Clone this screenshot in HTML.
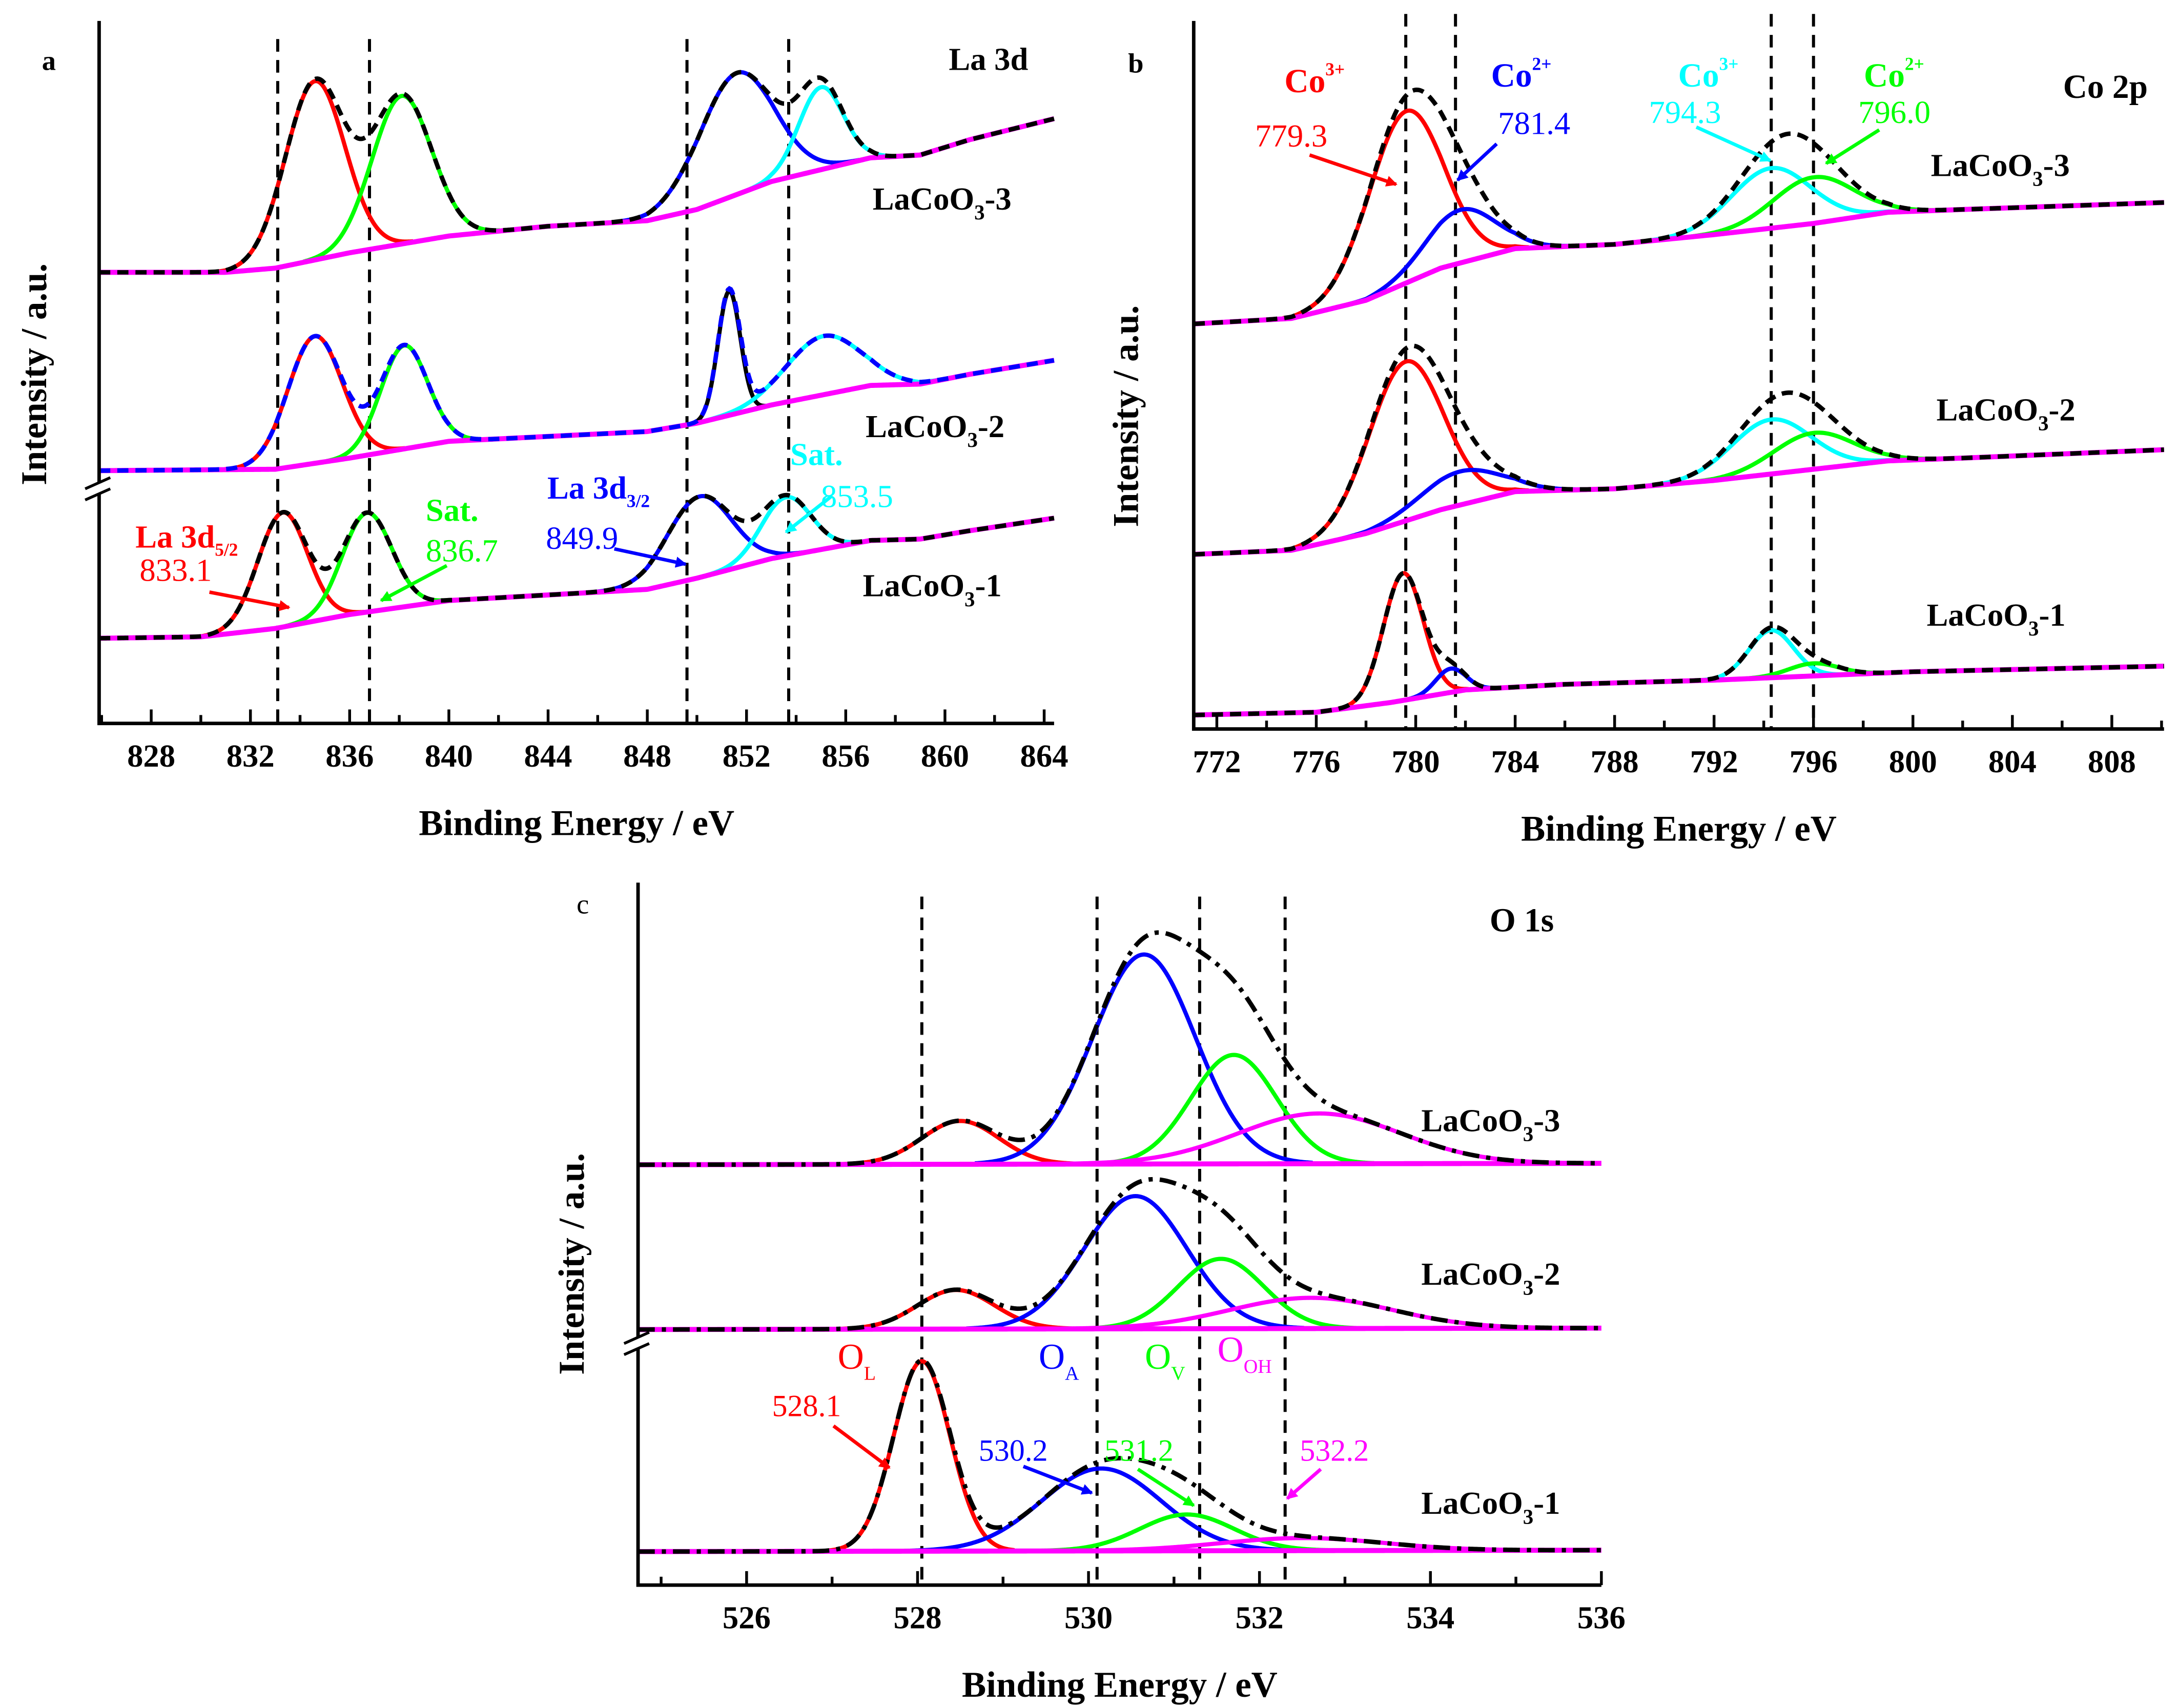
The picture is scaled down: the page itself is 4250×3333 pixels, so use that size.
<!DOCTYPE html>
<html><head><meta charset="utf-8"><title>XPS spectra</title>
<style>
html,body{margin:0;padding:0;background:#fff;}
svg{display:block;}
text{font-family:"Liberation Serif",serif;}
</style></head>
<body>
<svg id="fig" xmlns="http://www.w3.org/2000/svg" width="4250" height="3333" viewBox="0 0 1560 1223" preserveAspectRatio="none">
<rect x="0" y="0" width="1560" height="1223" fill="#fff"/>
<g id="layer"></g>
</svg>
<script>
// ---------- Panel a : La 3d ----------
const aTicks = [828,832,836,840,844,848,852,856,860,864];
const aDashLines = [833.1,836.8,849.6,853.7];
const aBaseE3 = [826,831,833,836,840,844,848,850,853,857,859,861,864.4];
const aBaseI3 = [323,323,326,337,349,356,360,368,388,405,407,418,433];
const aBaseE2 = [826,833,836,840,848,850,853,857,859,861,864.4];
const aBaseI2 = [181,182,190,202,209,215,228,242,243,250,260];
const aBaseE1 = [826,830,833,836,840,848,850,853,857,859,861,864.4];
const aBaseI1 = [61,62,68,78,88,96,104,118,131,132,138,147];
const aCent3 = [834.6,838.1,851.6,855.0];
const aHeight3 = [128,106,87,59];
const aSigma3 = [1.2,1.2,1.5,0.9];
const aCent2 = [834.6,838.2,851.3,855.1];
const aHeight2 = [91,74,89,42];
const aSigma2 = [1.1,0.95,0.45,1.5];
const aCent1 = [833.3,836.7,850.1,853.6];
const aHeight1 = [82,71,58,42];
const aSigma1 = [1.0,1.0,1.3,1.0];

// ---------- Panel b : Co 2p ----------
const bTicks = [772,776,780,784,788,792,796,800,804,808];
const bDashLines = [779.6,781.6,794.3,796.0];
const bBaseE3 = [771,775,778,781,784,788,792,796,799,802,810.1];
const bBaseI3 = [290,294,307,330,344,347,354,362,370,372,377];
const bBaseE2 = [771,775,778,781,784,788,792,796,799,802,810.1];
const bBaseI2 = [125,128,140,157,170,172,178,186,192,194,200];
const bBaseE1 = [771,776,779,782,786,792,796,800,810.1];
const bBaseI1 = [10,12,19,28,32,35,38,41,45];
const bCent3 = [779.6,781.8,794.3,796.0];
const bHeight3 = [123,38,43,33];
const bSigma3 = [1.5,1.4,1.6,1.6];
const bCent2 = [779.6,781.8,794.3,796.0];
const bHeight2 = [114,24,39,26];
const bSigma2 = [1.5,1.6,1.6,1.6];
const bCent1 = [779.5,781.4,794.3,796.0];
const bHeight1 = [91,17,34,9];
const bSigma1 = [0.8,0.6,0.9,1.0];

// ---------- Panel c : O 1s ----------
const cTicks = [526,528,530,532,534,536];
const cDashLines = [528.05,530.1,531.3,532.3];
const cBaseE3 = [524.7,536];
const cBaseI3 = [301,302];
const cBaseE2 = [524.7,536];
const cBaseI2 = [183,184];
const cBaseE1 = [524.7,536];
const cBaseI1 = [24,25];
const cCent3 = [528.5,530.65,531.7,532.7];
const cHeight3 = [31,150,78,36];
const cSigma3 = [0.45,0.6,0.5,0.95];
const cCent2 = [528.45,530.55,531.55,532.6];
const cHeight2 = [28,95,50,22];
const cSigma2 = [0.45,0.6,0.5,0.95];
const cCent1 = [528.05,530.15,531.15,532.5];
const cHeight1 = [136,59,26,9];
const cSigma1 = [0.33,0.7,0.55,0.95];

const NS = "http://www.w3.org/2000/svg";
const layer = document.getElementById('layer');
function mk(tag, attrs, parent){
  const el = document.createElementNS(NS, tag);
  for (const k in attrs) el.setAttribute(k, attrs[k]);
  (parent||layer).appendChild(el);
  return el;
}
function interp(E, I, e){
  if (e <= E[0]) return I[0];
  for (let i=1;i<E.length;i++){ if (e<=E[i]){ const t=(e-E[i-1])/(E[i]-E[i-1]); return I[i-1]+t*(I[i]-I[i-1]); } }
  return I[I.length-1];
}
function gauss(h,c,s,e){ return h*Math.exp(-(e-c)*(e-c)/(2*s*s)); }

function panel(cfg){
  const xs = e => cfg.x0 + (e-cfg.e0)/(cfg.e1-cfg.e0)*(cfg.x1-cfg.x0);
  const ys = v => cfg.yb - v;
  const g = mk('g',{});
  
  
  cfg.dash.forEach(e=>{
    const l = mk('line',{x1:xs(e),x2:xs(e),y1:cfg.dashTop,y2:cfg.yb,stroke:'#000','stroke-width':2.2,'stroke-dasharray':'9,6'},g);
    
    
  });
  const step = (cfg.e1-cfg.e0)/700;
  cfg.samples.forEach(s=>{
    const sg = mk('g',{},g);
    
    
    s.cent.forEach((c,i)=>{
      let d='';
      const lo=Math.max(cfg.e0,c-3.3*s.sig[i]), hi=Math.min(cfg.e1,c+3.3*s.sig[i]);
      for (let e=lo;e<=hi+1e-9;e+=step/2){
        const v = interp(s.bE,s.bI,e)+gauss(s.h[i],c,s.sig[i],e);
        d += (d?'L':'M')+xs(e).toFixed(2)+','+ys(v).toFixed(2);
      }
      const p = mk('path',{d:d,fill:'none',stroke:cfg.colors[s.compColorIdx?s.compColorIdx[i]:i],'stroke-width':3,'stroke-linejoin':'round'},sg);
      
      
    });
    let d='';
    for (let e=cfg.e0;e<=cfg.e1+1e-9;e+=step){ d += (d?'L':'M')+xs(e).toFixed(2)+','+ys(interp(s.bE,s.bI,e)).toFixed(2); }
    const bp = mk('path',{d:d,fill:'none',stroke:'#ff00ff','stroke-width':3.6},sg);
    
    
    d='';
    for (let e=cfg.e0;e<=cfg.e1+1e-9;e+=step){
      let v = interp(s.bE,s.bI,e);
      s.cent.forEach((c,i)=>{ v += gauss(s.h[i],c,s.sig[i],e); });
      d += (d?'L':'M')+xs(e).toFixed(2)+','+ys(v).toFixed(2);
    }
    const ep = mk('path',{d:d,fill:'none',stroke:s.envColor||'#000','stroke-width':3.2,'stroke-dasharray':cfg.envDash},sg);
    
    
    const t = mk('text',{x:s.lx,y:s.ly,'font-size':23,'font-weight':'bold',fill:'#000'},sg);
    t.innerHTML = 'LaCoO<tspan font-size="15" dy="7">3</tspan><tspan dy="-7">-'+s.label.slice(-1)+'</tspan>';
    
    
  });
  const ax = mk('path',{d:`M${cfg.x0},${cfg.ytop}L${cfg.x0},${cfg.yb}L${cfg.x1},${cfg.yb}`,fill:'none',stroke:'#000','stroke-width':2.5},g);
  
  
  for (let e=cfg.ticks[0]-cfg.minor; e<=cfg.e1; e+=cfg.minor){
    if (e<cfg.e0) continue;
    const major = cfg.ticks.some(t=>Math.abs(t-e)<1e-6);
    const tk = mk('line',{x1:xs(e),x2:xs(e),y1:cfg.yb,y2:cfg.yb-(major?10:6),stroke:'#000','stroke-width':2},g);
    
    
  }
  cfg.ticks.forEach(t=>{
    const tl = mk('text',{x:xs(t),y:cfg.yb+31,'font-size':23,'font-weight':'bold','text-anchor':'middle'},g);
    tl.textContent = t;
    
    
  });
  const xt = mk('text',{x:(cfg.x0+cfg.x1)/2,y:cfg.yb+80,'font-size':26,'font-weight':'bold','text-anchor':'middle'},g);
  xt.textContent = 'Binding Energy / eV';
  
  
  const yt = mk('text',{x:0,y:0,'font-size':26,'font-weight':'bold','text-anchor':'middle',transform:`translate(${cfg.ylx},${cfg.yly}) rotate(-90)`},g);
  yt.textContent = 'Intensity / a.u.';
  
  
  if (cfg.breakY){
    const br = mk('g',{},g);
    
    
    mk('rect',{x:cfg.x0-10,y:cfg.breakY-4,width:20,height:8,fill:'#fff'},br);
    mk('line',{x1:cfg.x0-10,y1:cfg.breakY,x2:cfg.x0+8,y2:cfg.breakY-8,stroke:'#000','stroke-width':2},br);
    mk('line',{x1:cfg.x0-10,y1:cfg.breakY+8,x2:cfg.x0+8,y2:cfg.breakY,stroke:'#000','stroke-width':2},br);
  }
}

panel({name:'panel-a-la3d',x0:71,x1:755,e0:825.9,e1:864.4,yb:518,ytop:15,dashTop:28,minor:2,ticks:aTicks,dash:aDashLines,
  colors:['#ff0000','#00ff00','#0000ff','#00ffff','#000000'],envDash:'8,5',ylx:33,yly:268,breakY:350,
  samples:[
    {label:'LaCoO3-3',bE:aBaseE3,bI:aBaseI3,cent:aCent3,h:aHeight3,sig:aSigma3,lx:625,ly:150},
    {label:'LaCoO3-2',bE:aBaseE2,bI:aBaseI2,cent:aCent2,h:aHeight2,sig:aSigma2,lx:620,ly:313,envColor:'#0000ff',compColorIdx:[0,1,4,3]},
    {label:'LaCoO3-1',bE:aBaseE1,bI:aBaseI1,cent:aCent1,h:aHeight1,sig:aSigma1,lx:618,ly:427}
  ]});
panel({name:'panel-b-co2p',x0:855,x1:1550,e0:771.07,e1:810.1,yb:522,ytop:15,dashTop:10,minor:2,ticks:bTicks,dash:bDashLines,
  colors:['#ff0000','#0000ff','#00ffff','#00ff00'],envDash:'8,5',ylx:815,yly:298,breakY:0,
  samples:[
    {label:'LaCoO3-3',bE:bBaseE3,bI:bBaseI3,cent:bCent3,h:bHeight3,sig:bSigma3,lx:1383,ly:126},
    {label:'LaCoO3-2',bE:bBaseE2,bI:bBaseI2,cent:bCent2,h:bHeight2,sig:bSigma2,lx:1387,ly:301},
    {label:'LaCoO3-1',bE:bBaseE1,bI:bBaseI1,cent:bCent1,h:bHeight1,sig:bSigma1,lx:1380,ly:448}
  ]});
panel({name:'panel-c-o1s',x0:457,x1:1147,e0:524.73,e1:536,yb:1135,ytop:632,dashTop:642,minor:1,ticks:cTicks,dash:cDashLines,
  colors:['#ff0000','#0000ff','#00ff00','#ff00ff'],envDash:'12,5,3,5',ylx:418,yly:905,breakY:962,
  samples:[
    {label:'LaCoO3-3',bE:cBaseE3,bI:cBaseI3,cent:cCent3,h:cHeight3,sig:cSigma3,lx:1018,ly:810},
    {label:'LaCoO3-2',bE:cBaseE2,bI:cBaseI2,cent:cCent2,h:cHeight2,sig:cSigma2,lx:1018,ly:920},
    {label:'LaCoO3-1',bE:cBaseE1,bI:cBaseI1,cent:cCent1,h:cHeight1,sig:cSigma1,lx:1018,ly:1084}
  ]});
</script>
<script>
(function(){
const NS="http://www.w3.org/2000/svg";
const svg=document.getElementById('fig');
const ann=document.createElementNS(NS,'g');


svg.appendChild(ann);
ann.innerHTML = `
<defs>
<marker id="ah-r" markerWidth="8" markerHeight="8" refX="7" refY="4" orient="auto" markerUnits="userSpaceOnUse"><path d="M0,0L8,4L0,8z" fill="#ff0000"/></marker>
<marker id="ah-g" markerWidth="8" markerHeight="8" refX="7" refY="4" orient="auto" markerUnits="userSpaceOnUse"><path d="M0,0L8,4L0,8z" fill="#00ff00"/></marker>
<marker id="ah-b" markerWidth="8" markerHeight="8" refX="7" refY="4" orient="auto" markerUnits="userSpaceOnUse"><path d="M0,0L8,4L0,8z" fill="#0000ff"/></marker>
<marker id="ah-c" markerWidth="8" markerHeight="8" refX="7" refY="4" orient="auto" markerUnits="userSpaceOnUse"><path d="M0,0L8,4L0,8z" fill="#00ffff"/></marker>
<marker id="ah-m" markerWidth="8" markerHeight="8" refX="7" refY="4" orient="auto" markerUnits="userSpaceOnUse"><path d="M0,0L8,4L0,8z" fill="#ff00ff"/></marker>
</defs>
<text x="30" y="50" font-size="20" font-weight="bold">a</text>
<text x="708" y="50" font-size="23" font-weight="bold" text-anchor="middle">La 3d</text>
<text x="97" y="392" font-size="23" font-weight="bold" fill="#ff0000">La 3d<tspan font-size="13" dy="6">5/2</tspan></text>
<text x="100" y="416" font-size="23" fill="#ff0000">833.1</text>
<line x1="150" y1="424" x2="207" y2="435" stroke="#ff0000" stroke-width="2.5" marker-end="url(#ah-r)"/>
<text x="305" y="373" font-size="23" font-weight="bold" fill="#00ff00">Sat.</text>
<text x="305" y="402" font-size="23" fill="#00ff00">836.7</text>
<line x1="320" y1="405" x2="273" y2="430" stroke="#00ff00" stroke-width="2.5" marker-end="url(#ah-g)"/>
<text x="392" y="357" font-size="23" font-weight="bold" fill="#0000ff">La 3d<tspan font-size="13" dy="6">3/2</tspan></text>
<text x="391" y="393" font-size="23" fill="#0000ff">849.9</text>
<line x1="440" y1="393" x2="491" y2="404" stroke="#0000ff" stroke-width="2.5" marker-end="url(#ah-b)"/>
<text x="566" y="333" font-size="23" font-weight="bold" fill="#00ffff">Sat.</text>
<text x="588" y="363" font-size="23" fill="#00ffff">853.5</text>
<line x1="596" y1="355" x2="563" y2="381" stroke="#00ffff" stroke-width="2.5" marker-end="url(#ah-c)"/>

<text x="808" y="52" font-size="20" font-weight="bold">b</text>
<text x="1508" y="70" font-size="24" font-weight="bold" text-anchor="middle">Co 2p</text>
<text x="920" y="66" font-size="24" font-weight="bold" fill="#ff0000">Co<tspan font-size="13" dy="-12">3+</tspan></text>
<text x="899" y="105" font-size="23" fill="#ff0000">779.3</text>
<line x1="938" y1="111" x2="1000" y2="132" stroke="#ff0000" stroke-width="2.5" marker-end="url(#ah-r)"/>
<text x="1068" y="62" font-size="24" font-weight="bold" fill="#0000ff">Co<tspan font-size="13" dy="-12">2+</tspan></text>
<text x="1073" y="96" font-size="23" fill="#0000ff">781.4</text>
<line x1="1072" y1="103" x2="1044" y2="129" stroke="#0000ff" stroke-width="2.5" marker-end="url(#ah-b)"/>
<text x="1202" y="62" font-size="24" font-weight="bold" fill="#00ffff">Co<tspan font-size="13" dy="-12">3+</tspan></text>
<text x="1181" y="88" font-size="23" fill="#00ffff">794.3</text>
<line x1="1215" y1="91" x2="1268" y2="115" stroke="#00ffff" stroke-width="2.5" marker-end="url(#ah-c)"/>
<text x="1335" y="62" font-size="24" font-weight="bold" fill="#00ff00">Co<tspan font-size="13" dy="-12">2+</tspan></text>
<text x="1331" y="88" font-size="23" fill="#00ff00">796.0</text>
<line x1="1346" y1="93" x2="1308" y2="117" stroke="#00ff00" stroke-width="2.5" marker-end="url(#ah-g)"/>

<text x="413" y="654" font-size="20">c</text>
<text x="1090" y="667" font-size="24" font-weight="bold" text-anchor="middle">O 1s</text>
<text x="600" y="980" font-size="26" fill="#ff0000">O<tspan font-size="14" dy="8">L</tspan></text>
<text x="744" y="980" font-size="26" fill="#0000ff">O<tspan font-size="14" dy="8">A</tspan></text>
<text x="820" y="980" font-size="26" fill="#00ff00">O<tspan font-size="14" dy="8">V</tspan></text>
<text x="872" y="975" font-size="26" fill="#ff00ff">O<tspan font-size="14" dy="8">OH</tspan></text>
<text x="553" y="1014" font-size="22" fill="#ff0000">528.1</text>
<line x1="597" y1="1021" x2="637" y2="1051" stroke="#ff0000" stroke-width="2.5" marker-end="url(#ah-r)"/>
<text x="701" y="1046" font-size="22" fill="#0000ff">530.2</text>
<line x1="733" y1="1050" x2="782" y2="1069" stroke="#0000ff" stroke-width="2.5" marker-end="url(#ah-b)"/>
<text x="791" y="1046" font-size="22" fill="#00ff00">531.2</text>
<line x1="815" y1="1052" x2="855" y2="1078" stroke="#00ff00" stroke-width="2.5" marker-end="url(#ah-g)"/>
<text x="931" y="1046" font-size="22" fill="#ff00ff">532.2</text>
<line x1="946" y1="1052" x2="922" y2="1073" stroke="#ff00ff" stroke-width="2.5" marker-end="url(#ah-m)"/>
`;
})();
</script>
</body></html>
